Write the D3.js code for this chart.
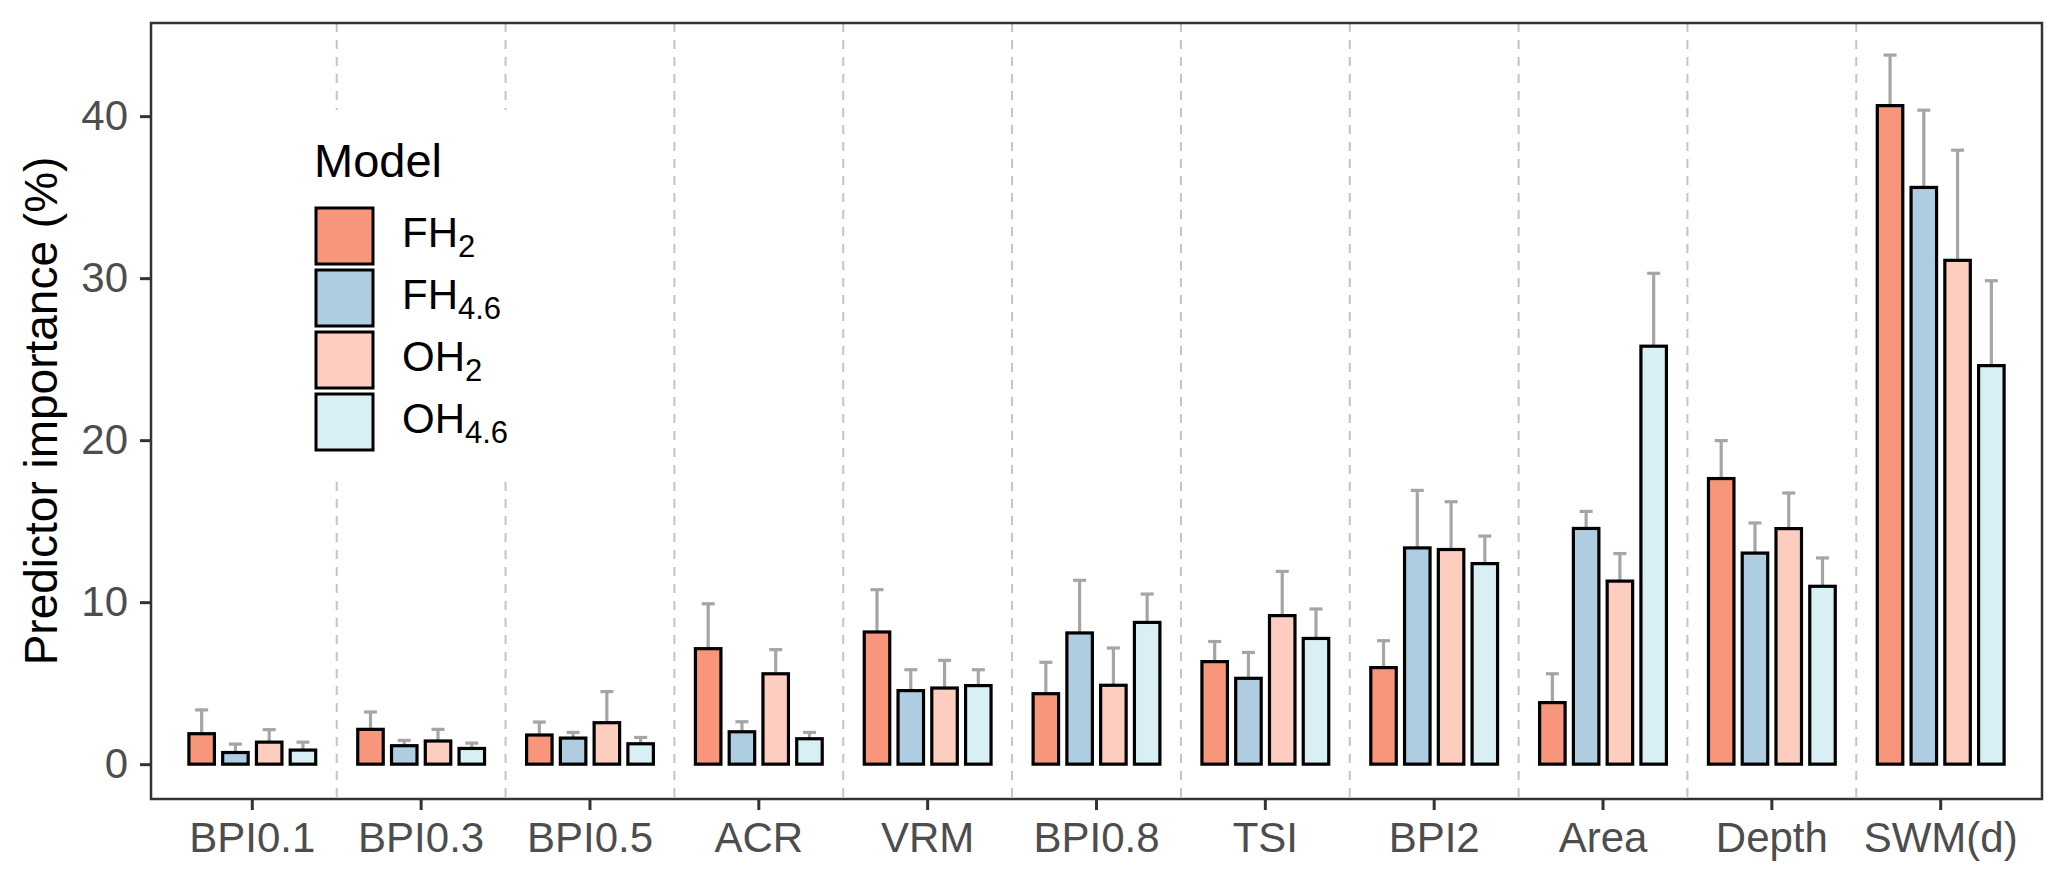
<!DOCTYPE html>
<html>
<head>
<meta charset="utf-8">
<script src="https://cdn.jsdelivr.net/npm/d3@7"></script>
<style>
    body { margin: 0; background: #ffffff; }
    svg text { font-family: "Liberation Sans", Arial, sans-serif; }
</style>
</head>
<body>
<script>

// data
var categories = ["BPI0.1", "BPI0.3", "BPI0.5", "ACR", "VRM", "BPI0.8", "TSI", "BPI2", "Area", "Depth", "SWM(d)"];
var models = ["FH2", "FH4.6", "OH2", "OH4.6"];
var modelBase = ["FH", "FH", "OH", "OH"];
var modelSub = ["2", "4.6", "2", "4.6"];
var modelColors = ["#F8967B", "#AECDE1", "#FDCDC0", "#D8EFF3"];

var meanFH2  = [1.88, 2.15, 1.80, 7.13, 8.16, 4.35, 6.33, 5.96, 3.80, 17.63, 40.65];
var upperFH2 = [3.35, 3.22, 2.60, 9.90, 10.77, 6.29, 7.57, 7.62, 5.58, 19.97, 43.77];
var meanFH46  = [0.72, 1.14, 1.61, 2.00, 4.54, 8.10, 5.30, 13.35, 14.55, 13.03, 35.60];
var upperFH46 = [1.24, 1.47, 1.96, 2.62, 5.83, 11.35, 6.90, 16.90, 15.60, 14.89, 40.37];
var meanOH2  = [1.36, 1.43, 2.56, 5.58, 4.70, 4.87, 9.17, 13.25, 11.30, 14.54, 31.10];
var upperOH2 = [2.13, 2.15, 4.48, 7.07, 6.41, 7.17, 11.90, 16.20, 13.00, 16.74, 37.90];
var meanOH46  = [0.87, 0.97, 1.26, 1.57, 4.85, 8.75, 7.76, 12.38, 25.80, 10.98, 24.60];
var upperOH46 = [1.36, 1.30, 1.65, 1.96, 5.83, 10.50, 9.58, 14.08, 30.30, 12.73, 29.84];

var yTicks = [0, 10, 20, 30, 40];

var means = [meanFH2, meanFH46, meanOH2, meanOH46];
var uppers = [upperFH2, upperFH46, upperOH2, upperOH46];

var rows = [];
categories.forEach(function (c, i) {
    models.forEach(function (m, j) {
        rows.push({ cat: c, model: m, k: j, value: means[j][i], upper: uppers[j][i] });
    });
});

var W = 2067, H = 886;
var panel = { left: 151, right: 2042, top: 23, bottom: 799 };

var svg = d3.select("body")
    .append("svg")
        .attr("width", W)
        .attr("height", H)
        .style("background", "#ffffff");

var x = d3.scaleBand()
    .domain(categories)
    .range([panel.left, panel.right])
    .paddingInner(0)
    .paddingOuter(0.1);

var bw = x.bandwidth();

var xSub = d3.scaleBand()
    .domain(models)
    .range([0.1 * bw, 0.9 * bw]);

var barW = xSub.bandwidth() * 0.755;

var y = d3.scaleLinear()
    .domain([-2.15, 45.75])
    .range([panel.bottom, panel.top]);

// dashed separators between categories
svg.append("g")
    .selectAll("line")
    .data(categories.slice(1))
    .join("line")
        .attr("x1", function (d) { return x(d); })
        .attr("x2", function (d) { return x(d); })
        .attr("y1", panel.top)
        .attr("y2", panel.bottom)
        .attr("stroke", "#C4C4C4")
        .attr("stroke-width", 2)
        .attr("stroke-dasharray", "9,8");

var cx = function (d) { return x(d.cat) + xSub(d.model) + xSub.bandwidth() / 2; };

// error bars (upper half only, bar covers the rest)
var eb = svg.append("g")
    .attr("stroke", "#A5A5A5")
    .attr("stroke-width", 3.2);

eb.selectAll("line.v")
    .data(rows)
    .join("line")
        .attr("class", "v")
        .attr("x1", cx)
        .attr("x2", cx)
        .attr("y1", function (d) { return y(d.value); })
        .attr("y2", function (d) { return y(d.upper); });

eb.selectAll("line.cap")
    .data(rows)
    .join("line")
        .attr("class", "cap")
        .attr("x1", function (d) { return cx(d) - 6.5; })
        .attr("x2", function (d) { return cx(d) + 6.5; })
        .attr("y1", function (d) { return y(d.upper); })
        .attr("y2", function (d) { return y(d.upper); });

// bars
svg.append("g")
    .selectAll("rect")
    .data(rows)
    .join("rect")
        .attr("x", function (d) { return cx(d) - barW / 2; })
        .attr("width", barW)
        .attr("y", function (d) { return y(d.value); })
        .attr("height", function (d) { return y(0) - y(d.value); })
        .attr("fill", function (d) { return modelColors[d.k]; })
        .attr("stroke", "#000000")
        .attr("stroke-width", 3.2);

// panel border
svg.append("rect")
    .attr("x", panel.left)
    .attr("y", panel.top)
    .attr("width", panel.right - panel.left)
    .attr("height", panel.bottom - panel.top)
    .attr("fill", "none")
    .attr("stroke", "#333333")
    .attr("stroke-width", 2.5);

// axes
var yAxis = svg.append("g")
    .attr("transform", "translate(" + panel.left + ",0)")
    .call(d3.axisLeft(y).tickValues(yTicks).tickSize(11).tickPadding(12));

var xAxis = svg.append("g")
    .attr("transform", "translate(0," + panel.bottom + ")")
    .call(d3.axisBottom(x).tickSize(11).tickPadding(12));

[yAxis, xAxis].forEach(function (a) {
    a.select(".domain").remove();
    a.selectAll(".tick line")
        .attr("stroke", "#333333")
        .attr("stroke-width", 3);
    a.selectAll(".tick text")
        .attr("fill", "#4D4D4D")
        .style("font-size", "42px");
});

// y title
svg.append("text")
    .attr("transform", "translate(57," + ((panel.top + panel.bottom) / 2) + ") rotate(-90)")
    .attr("text-anchor", "middle")
    .style("font-size", "46px")
    .attr("fill", "#000000")
    .text("Predictor importance (%)");

// legend
var legend = svg.append("g");

legend.append("rect")
    .attr("x", 287)
    .attr("y", 110)
    .attr("width", 270)
    .attr("height", 368)
    .attr("fill", "#ffffff");

legend.append("text")
    .attr("x", 314)
    .attr("y", 177)
    .style("font-size", "47px")
    .attr("fill", "#000000")
    .text("Model");

var keys = legend.selectAll("g.key")
    .data(models)
    .join("g")
        .attr("class", "key")
        .attr("transform", function (d, i) { return "translate(316," + (208 + i * 62) + ")"; });

keys.append("rect")
    .attr("width", 57)
    .attr("height", 56)
    .attr("fill", function (d, i) { return modelColors[i]; })
    .attr("stroke", "#000000")
    .attr("stroke-width", 3);

var lbl = keys.append("text")
    .attr("x", 86)
    .attr("y", 39)
    .style("font-size", "42px")
    .attr("fill", "#000000");

lbl.append("tspan")
    .text(function (d, i) { return modelBase[i]; });

lbl.append("tspan")
    .attr("dy", 10)
    .style("font-size", "31px")
    .text(function (d, i) { return modelSub[i]; });

</script>
</body>
</html>
